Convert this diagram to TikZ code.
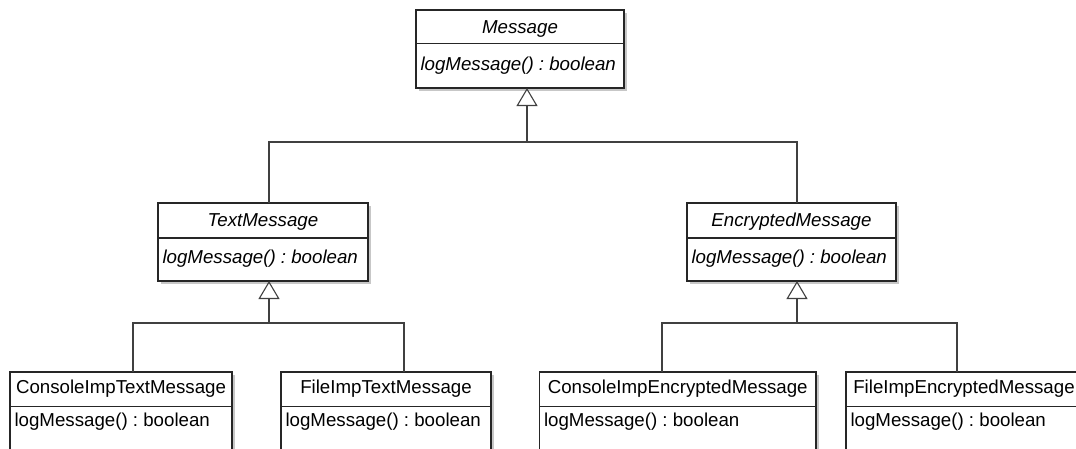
\documentclass[tikz,border=0pt]{standalone}
\usepackage{fontspec}
\setmainfont{Liberation Sans}
\usetikzlibrary{arrows.meta,shadows}
\frenchspacing
\begin{document}
\begin{tikzpicture}[x=1pt,y=-1pt,
  box/.style={draw=black!85, line width=1.3pt, fill=white, anchor=north west,
    inner sep=0pt, outer sep=0pt,
    drop shadow={shadow xshift=2.5pt, shadow yshift=-2.5pt, fill=black!22, opacity=1}},
  txt/.style={inner sep=0pt, outer sep=0pt, font=\fontsize{18.7}{22}\selectfont},
  abstxt/.style={txt, font=\fontsize{18.7}{22}\selectfont\itshape},
  conn/.style={draw=black!75, line width=1.1pt},
  gen/.style={conn, -{Triangle[open, length=18pt, width=21pt]}, line join=miter}
]
\useasboundingbox (0,0) rectangle (1076,448);
\clip (0,0) rectangle (1076,448);
\fill[white] (0,0) rectangle (1076,448);

% #1 id, #2 left, #3 top, #4 width, #5 header h, #6 body h, #7 title, #8 operation, #9 text style
\newcommand\umlclass[9]{%
  \node[box, minimum width=#4pt, minimum height=#5pt] (#1h) at (#2,#3) {};
  \node[box, minimum width=#4pt, minimum height=#6pt] (#1b) at (#2,#3+#5) {};
  \node[#9, anchor=base] (#1t) at (#2+#4/2,#3+\hoff) {#7};
  \node[#9, anchor=base west] (#1o) at (#2+4.5,#3+#5+\boff) {#8};
}

% abstract classes
\def\hoff{23}\def\boff{26.5}
\umlclass{msg}{416}{10}{208}{33.5}{44.5}{Message}{logMessage() : boolean}{abstxt}
\def\hoff{23}\def\boff{25}
\umlclass{tm}{158}{203}{210}{35}{43}{TextMessage}{logMessage() : boolean}{abstxt}
\umlclass{em}{687}{203}{209}{35}{43}{EncryptedMessage}{logMessage() : boolean}{abstxt}

% concrete classes
\def\hoff{21}\def\boff{20}
\umlclass{cit}{10}{372}{222}{34.5}{70}{ConsoleImpTextMessage}{logMessage() : boolean}{txt}
\umlclass{fit}{281}{372}{210}{34.5}{70}{FileImpTextMessage}{logMessage() : boolean}{txt}
\umlclass{cie}{539.5}{372}{276.5}{34.5}{70}{ConsoleImpEncryptedMessage}{logMessage() : boolean}{txt}
\umlclass{fie}{846}{372}{236}{34.5}{70}{FileImpEncryptedMessage}{logMessage() : boolean}{txt}

% generalization: Message
\coordinate (j0) at (527,142);
\coordinate (j0l) at (269,142);
\coordinate (j0r) at (797,142);
\draw[conn] (tmh.north -| j0l) -- (j0l) -- (j0r) -- (emh.north -| j0r);
\draw[gen] (j0) -- (msgb.south -| j0);

% generalization: TextMessage
\coordinate (j1) at (269,323);
\coordinate (j1l) at (133,323);
\coordinate (j1r) at (404,323);
\draw[conn] (cith.north -| j1l) -- (j1l) -- (j1r) -- (fith.north -| j1r);
\draw[gen] (j1) -- (tmb.south -| j1);

% generalization: EncryptedMessage
\coordinate (j2) at (797,323);
\coordinate (j2l) at (662,323);
\coordinate (j2r) at (957,323);
\draw[conn] (cieh.north -| j2l) -- (j2l) -- (j2r) -- (fieh.north -| j2r);
\draw[gen] (j2) -- (emb.south -| j2);
\end{tikzpicture}
\end{document}
